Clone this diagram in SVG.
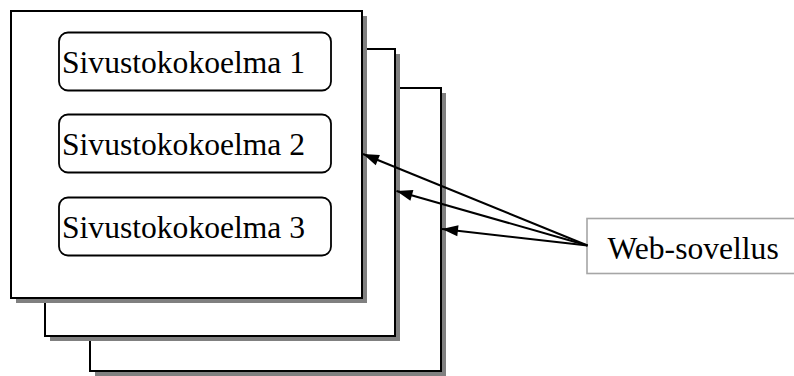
<svg xmlns="http://www.w3.org/2000/svg" width="794" height="376" viewBox="0 0 794 376">
  <style>
    .shadow { fill: #808080; stroke: none; }
    .sheet { fill: #ffffff; stroke: #000000; stroke-width: 2; }
    .coll { fill: #ffffff; stroke: #000000; stroke-width: 1.8; }
    .app { fill: #ffffff; stroke: #a6a6a6; stroke-width: 1.6; }
    .label { font-family: "Liberation Serif", "Times New Roman", serif; font-size: 31.6px; fill: #000000; }
    .conn { stroke: #000000; stroke-width: 2; fill: none; marker-end: url(#arrow); }
  </style>
  <defs>
    <marker id="arrow" markerUnits="userSpaceOnUse" markerWidth="18" markerHeight="14" viewBox="0 0 18 14" refX="17" refY="7" orient="auto">
      <path d="M1,1.5 L17,7 L1,12.5 Z" fill="#000000"/>
    </marker>
  </defs>

  <!-- back sheet -->
  <g id="sheet3">
    <rect class="shadow" x="95" y="93" width="351" height="283"/>
    <rect class="sheet" x="90" y="88" width="351" height="283"/>
  </g>

  <!-- middle sheet -->
  <g id="sheet2">
    <rect class="shadow" x="50" y="54" width="350" height="287"/>
    <rect class="sheet" x="45" y="49" width="350" height="287"/>
  </g>

  <!-- front sheet with the collections -->
  <g id="sheet1">
    <rect class="shadow" x="16" y="16" width="351" height="287"/>
    <rect class="sheet" x="11" y="11" width="351" height="287"/>
  </g>

  <g id="collection1">
    <rect class="coll" x="59" y="32.5" width="272" height="58" rx="9" ry="9"/>
    <text class="label" x="62" y="72.5">Sivustokokoelma 1</text>
  </g>
  <g id="collection2">
    <rect class="coll" x="59" y="114.5" width="272" height="58" rx="9" ry="9"/>
    <text class="label" x="62" y="155">Sivustokokoelma 2</text>
  </g>
  <g id="collection3">
    <rect class="coll" x="59" y="197.5" width="272" height="58" rx="9" ry="9"/>
    <text class="label" x="62" y="237.5">Sivustokokoelma 3</text>
  </g>

  <g id="webapp">
    <rect class="app" x="587" y="218.5" width="220" height="55"/>
    <text class="label" x="607.5" y="258.5">Web-sovellus</text>
  </g>

  <g id="connectors">
    <line class="conn" x1="587.5" y1="245.5" x2="363" y2="154"/>
    <line class="conn" x1="587.5" y1="245.5" x2="396.5" y2="191"/>
    <line class="conn" x1="587.5" y1="245.5" x2="442" y2="229"/>
  </g>
</svg>
